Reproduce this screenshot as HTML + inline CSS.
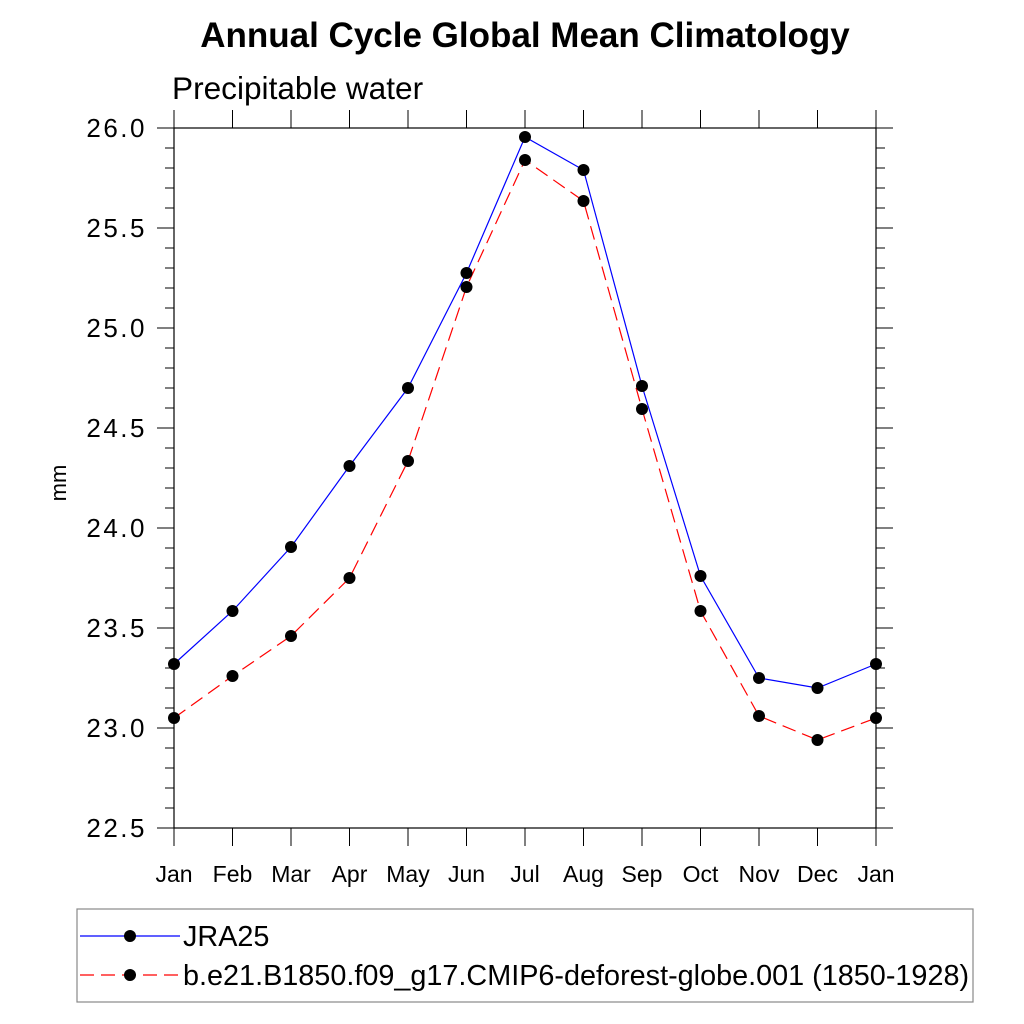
<!DOCTYPE html>
<html><head><meta charset="utf-8"><style>
body{margin:0;background:#fff}
svg{display:block;font-family:"Liberation Sans",sans-serif}
</style></head><body>
<svg id="chart" width="1024" height="1024" viewBox="0 0 1024 1024">
<rect width="1024" height="1024" fill="#fff"/>
<text x="525" y="47" font-size="35" font-weight="bold" text-anchor="middle">Annual Cycle Global Mean Climatology</text>
<text x="172" y="99" font-size="31.6">Precipitable water</text>
<text transform="translate(66,483) rotate(-90)" font-size="22" text-anchor="middle">mm</text>
<g id="axes"></g>
<g id="series"></g>
<g>
<rect x="77" y="909" width="896" height="93" fill="none" stroke="#888" stroke-width="1.2"/>
<line x1="80" y1="936" x2="180" y2="936" stroke="#0000ff" stroke-width="1.2"/>
<circle cx="130" cy="936" r="6" fill="#000"/>
<text x="183" y="946" font-size="28.8">JRA25</text>
<line x1="80" y1="975" x2="180" y2="975" stroke="#ff0000" stroke-width="1.2" stroke-dasharray="14,7"/>
<circle cx="130" cy="975" r="6" fill="#000"/>
<text x="183" y="985" font-size="28.8">b.e21.B1850.f09_g17.CMIP6-deforest-globe.001 (1850-1928)</text>
</g>
</svg>
<script>
const months=["Jan","Feb","Mar","Apr","May","Jun","Jul","Aug","Sep","Oct","Nov","Dec","Jan"];
const jra25=[23.32,23.585,23.905,24.31,24.70,25.275,25.955,25.79,24.71,23.76,23.25,23.20,23.32];
const model=[23.05,23.26,23.46,23.75,24.335,25.205,25.84,25.635,24.595,23.585,23.06,22.94,23.05];
const yTicks=["22.5","23.0","23.5","24.0","24.5","25.0","25.5","26.0"];
const NS="http://www.w3.org/2000/svg";
const X0=174,X1=876,Y0=828,Y1=128,ymin=22.5,ymax=26.0;
const xs=i=>X0+(X1-X0)*i/(months.length-1);
const ys=v=>Y0-(v-ymin)/(ymax-ymin)*(Y0-Y1);
function mk(tag,attrs,parent){const e=document.createElementNS(NS,tag);for(const k in attrs)e.setAttribute(k,attrs[k]);parent.appendChild(e);return e;}
const ax=document.getElementById('axes');
const frame=mk('rect',{x:X0,y:Y1,width:X1-X0,height:Y0-Y1,fill:'none',stroke:'#000','stroke-width':1.2},ax);


months.forEach((m,i)=>{
  const x=xs(i);
  mk('line',{x1:x,y1:Y0,x2:x,y2:Y0+18,stroke:'#000','stroke-width':1},ax);
  mk('line',{x1:x,y1:Y1,x2:x,y2:Y1-18,stroke:'#000','stroke-width':1},ax);
  const t=mk('text',{x:x,y:Y0+54,'font-size':23,'text-anchor':'middle'},ax);
  t.textContent=m;
  
  
});
for(let k=0;k<=35;k++){
  const v=ymin+k*0.1,y=ys(v),major=k%5===0,len=major?17:9;
  mk('line',{x1:X0-len,y1:y,x2:X0,y2:y,stroke:'#000','stroke-width':1},ax);
  mk('line',{x1:X1,y1:y,x2:X1+len,y2:y,stroke:'#000','stroke-width':1},ax);
}
yTicks.forEach(s=>{
  const t=mk('text',{x:147,y:ys(parseFloat(s))+9,'font-size':26,'text-anchor':'end','letter-spacing':'2.5'},ax);
  t.textContent=s;
  
  
});
const sg=document.getElementById('series');
function series(vals,color,dash,name){
  const pts=vals.map((v,i)=>xs(i)+','+ys(v)).join(' ');
  const pl=mk('polyline',{points:pts,fill:'none',stroke:color,'stroke-width':1.2},sg);
  if(dash)pl.setAttribute('stroke-dasharray',dash);
  
  
  vals.forEach((v,i)=>{
    const c=mk('circle',{cx:xs(i),cy:ys(v),r:6,fill:'#000'},sg);
    
    
  });
}
series(model,'#ff0000','14,7','model');
series(jra25,'#0000ff',null,'jra25');
</script>
</body></html>
